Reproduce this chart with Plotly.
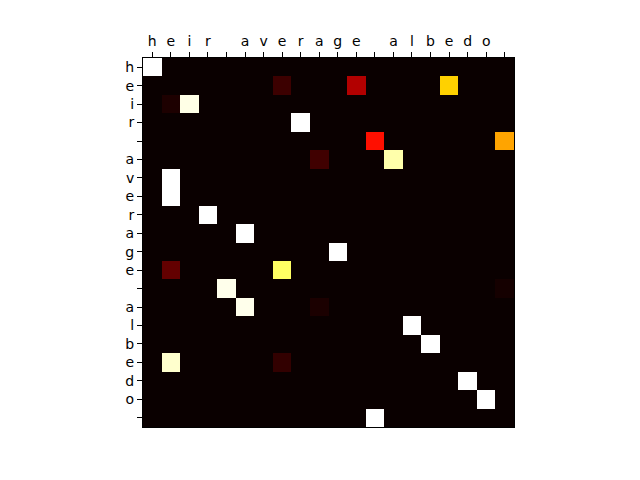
import numpy as np
import plotly.graph_objects as go

# Input (columns, shown on top) and output (rows) characters; last token is blank (end)
x_chars = ["h", "e", "i", "r", " ", "a", "v", "e", "r", "a", "g", "e", " ", "a", "l", "b", "e", "d", "o", ""]
y_chars = ["h", "e", "i", "r", " ", "a", "v", "e", "r", "a", "g", "e", " ", "a", "l", "b", "e", "d", "o", ""]

# Non-background attention weights (row index, column index, weight); all other cells ~0
peak_rows = [0, 1, 1, 1, 2, 2, 3, 4, 4, 5, 5, 6, 7, 8, 9, 10, 11, 11, 12, 12, 13, 13, 14, 15, 16, 16, 17, 18, 19]
peak_cols = [0, 7, 11, 16, 1, 2, 8, 12, 19, 9, 13, 1, 1, 3, 5, 10, 1, 7, 4, 19, 5, 9, 14, 15, 1, 7, 17, 18, 12]
peak_weights = [1.0, 0.074, 0.25, 0.677, 0.029, 0.975, 1.0, 0.388, 0.61, 0.08, 0.916, 1.0, 1.0, 1.0, 1.0,
                1.0, 0.133, 0.845, 0.98, 0.017, 0.98, 0.025, 1.0, 1.0, 0.95, 0.059, 1.0, 1.0, 1.0]

z = np.zeros((len(y_chars), len(x_chars)))
for r, c, w in zip(peak_rows, peak_cols, peak_weights):
    z[r, c] = w

hot = [[0.0, "rgb(10,0,0)"], [0.365, "rgb(255,0,0)"], [0.746, "rgb(255,255,0)"], [1.0, "rgb(255,255,255)"]]

fig = go.Figure(go.Heatmap(
    z=z, x=list(range(len(x_chars))), y=list(range(len(y_chars))),
    colorscale=hot, zmin=0, zmax=1, showscale=False,
))

axis_common = dict(
    showgrid=False, zeroline=False, showline=True, mirror=True,
    linecolor="black", linewidth=1, ticks="outside", ticklen=5, tickwidth=1,
    tickcolor="black", tickfont=dict(family="DejaVu Sans", size=14, color="black"),
)

fig.update_layout(
    width=640, height=480, autosize=False,
    margin=dict(l=143, r=126, t=58, b=53),
    paper_bgcolor="white", plot_bgcolor="white",
    xaxis=dict(side="top", tickmode="array", tickvals=list(range(len(x_chars))), ticktext=x_chars,
               range=[-0.5, len(x_chars) - 0.5], **axis_common),
    yaxis=dict(tickmode="array", tickvals=list(range(len(y_chars))), ticktext=y_chars,
               range=[len(y_chars) - 0.5, -0.5], **axis_common),
)

fig.write_html("out.html")
